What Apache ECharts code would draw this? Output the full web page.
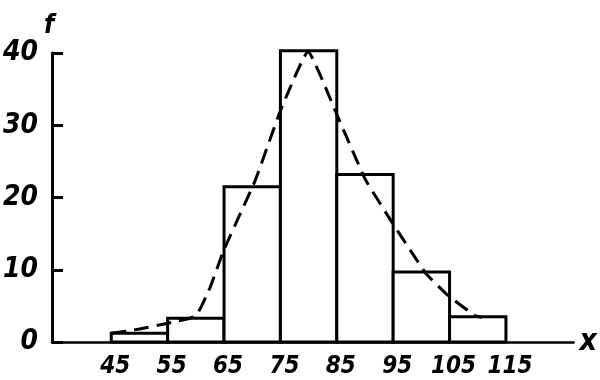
<!DOCTYPE html>
<html>
<head>
<meta charset="utf-8">
<script src="https://cdn.jsdelivr.net/npm/echarts@6/dist/echarts.min.js"></script>
<style>
  html, body { margin: 0; padding: 0; background: #fff; }
  #chart { width: 600px; height: 380px; }
</style>
</head>
<body>
<div id="chart"></div>
<script>
// histogram bins (class limits) and frequencies
var binStart = [45, 55, 65, 75, 85, 95, 105]
var binEnd = [55, 65, 75, 85, 95, 105, 115]
var freq = [1.2, 3.3, 21.5, 40.3, 23.2, 9.7, 3.5]

// dashed frequency curve
var curveX = [45, 50, 55, 60, 62.5, 65, 70.5, 75, 79.9, 85, 90, 94.6, 100.8, 104.5, 109.4, 110.7]
var curveY = [1.2, 1.8, 2.6, 3.6, 7.5, 12.8, 22.3, 32, 40.2, 31.5, 22.6, 16.8, 9.5, 6.6, 3.7, 3.4]

var xTicks = [45, 55, 65, 75, 85, 95, 105, 115]

var font = '"DejaVu Sans Condensed", "DejaVu Sans", sans-serif'
var weight = 'bold condensed'

var chart = echarts.init(document.getElementById('chart'))

var barData = []
for (var i = 0; i < freq.length; i++) {
  barData.push([binStart[i], binEnd[i], freq[i]])
}
var lineData = []
for (var j = 0; j < curveX.length; j++) {
  lineData.push([curveX[j], curveY[j]])
}

var option = {
  animation: false,
  backgroundColor: '#fff',
  grid: { left: 52, right: 25, top: 53, bottom: 38 },
  xAxis: {
    type: 'value',
    min: 34.5,
    max: 127,
    name: 'x',
    nameLocation: 'end',
    nameGap: 6,
    nameTextStyle: { color: '#000', fontSize: 30, fontStyle: 'italic', fontWeight: weight, fontFamily: font, padding: [0, 0, 4, 0] },
    axisLine: { show: true, onZero: false, lineStyle: { color: '#000', width: 2.5 } },
    axisTick: { show: false },
    splitLine: { show: false },
    axisLabel: {
      customValues: xTicks,
      color: '#000',
      fontSize: 24,
      fontStyle: 'italic',
      fontWeight: weight,
      fontFamily: font,
      margin: 13,
      padding: [0, 0, 0, 8]
    }
  },
  yAxis: {
    type: 'value',
    min: 0,
    max: 40,
    interval: 10,
    name: 'f',
    nameLocation: 'end',
    nameGap: 12,
    nameTextStyle: { color: '#000', fontSize: 26, fontStyle: 'italic', fontWeight: weight, fontFamily: font, align: 'right', padding: [0, -2, 0, 0] },
    axisLine: { show: true, lineStyle: { color: '#000', width: 3 } },
    axisTick: { show: true, inside: true, length: 11, lineStyle: { color: '#000', width: 3 } },
    splitLine: { show: false },
    axisLabel: {
      color: '#000',
      fontSize: 28,
      fontStyle: 'italic',
      fontWeight: weight,
      fontFamily: font,
      margin: 14,
      padding: [6, 0, 0, 0]
    }
  },
  series: [
    {
      type: 'custom',
      data: barData,
      encode: { x: [0, 1], y: 2 },
      renderItem: function (params, api) {
        var p0 = api.coord([api.value(0), api.value(2)])
        var p1 = api.coord([api.value(1), 0])
        return {
          type: 'rect',
          shape: { x: p0[0], y: p0[1], width: p1[0] - p0[0], height: p1[1] - p0[1] },
          style: { fill: '#fff', stroke: '#000', lineWidth: 3 }
        }
      },
      z: 2
    },
    {
      type: 'line',
      data: lineData,
      symbol: 'none',
      smooth: 0.12,
      lineStyle: { color: '#000', width: 3, type: [15, 8] },
      z: 3
    }
  ]
}

chart.setOption(option)
</script>
</body>
</html>
